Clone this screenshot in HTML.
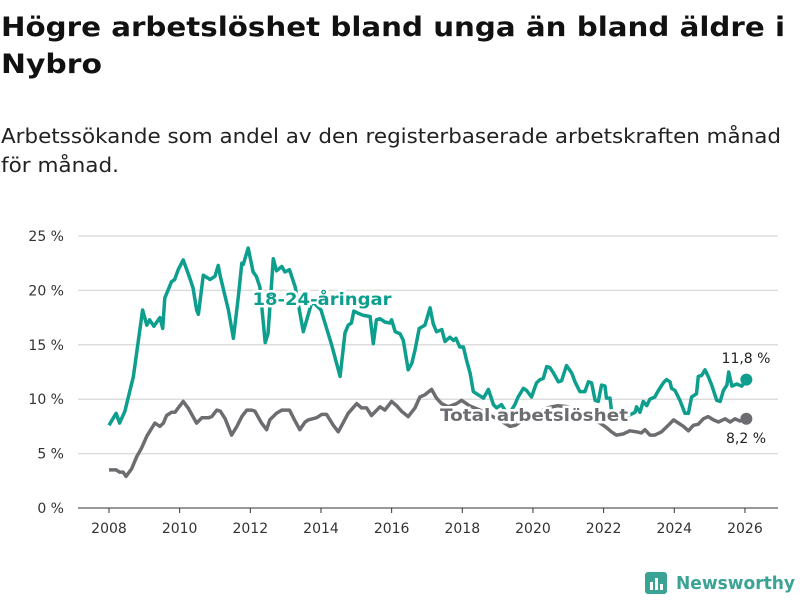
<!DOCTYPE html>
<html><head><meta charset="utf-8"><style>
body{margin:0;background:#fff;}
svg text{font-family:"DejaVu Sans","Liberation Sans",sans-serif;}
</style></head><body>
<svg width="800" height="600" viewBox="0 0 800 600">
<text x="1" y="36" font-size="27" font-weight="bold" fill="#111" textLength="784" lengthAdjust="spacingAndGlyphs">Högre arbetslöshet bland unga än bland äldre i</text>
<text x="1" y="73" font-size="27" font-weight="bold" fill="#111" textLength="101" lengthAdjust="spacingAndGlyphs">Nybro</text>
<text x="1" y="143" font-size="20" fill="#222" textLength="780" lengthAdjust="spacingAndGlyphs">Arbetssökande som andel av den registerbaserade arbetskraften månad</text>
<text x="1" y="172" font-size="20" fill="#222" textLength="118" lengthAdjust="spacingAndGlyphs">för månad.</text>
<g id="grid"></g><g id="xaxis"></g><g id="lines"></g>
<text x="322" y="305" font-size="17" font-weight="bold" fill="#0e9e8e" text-anchor="middle" stroke="#fff" stroke-width="5" paint-order="stroke" textLength="139" lengthAdjust="spacingAndGlyphs">18-24-åringar</text>
<text x="534" y="421" font-size="17" font-weight="bold" fill="#6d6c70" text-anchor="middle" stroke="#fff" stroke-width="5" paint-order="stroke" textLength="188" lengthAdjust="spacingAndGlyphs">Total arbetslöshet</text>
<text x="746" y="363" font-size="14" fill="#222" text-anchor="middle">11,8 %</text>
<text x="746" y="443" font-size="14" fill="#222" text-anchor="middle">8,2 %</text>
<g>
<rect x="645" y="572" width="22" height="22" rx="3" fill="#3aa394"/>
<rect x="650" y="582" width="3" height="8" fill="#fff"/><rect x="655" y="578" width="3" height="12" fill="#fff"/><rect x="660" y="584" width="3" height="6" fill="#fff"/>
<text x="676" y="589" font-size="18" font-weight="bold" fill="#3aa394" textLength="119" lengthAdjust="spacingAndGlyphs">Newsworthy</text>
</g>
</svg>
<script>
const yTicks=[0,5,10,15,20,25];
const yTickLabels=["0 %","5 %","10 %","15 %","20 %","25 %"];
const xTicks=[2008,2010,2012,2014,2016,2018,2020,2022,2024,2026];
const youthDates=[2008.0,2008.2,2008.3,2008.45,2008.69,2008.95,2009.07,2009.15,2009.27,2009.44,2009.52,2009.58,2009.77,2009.86,2009.96,2010.1,2010.29,2010.38,2010.48,2010.53,2010.67,2010.86,2011.0,2011.09,2011.15,2011.38,2011.52,2011.66,2011.76,2011.8,2011.94,2012.08,2012.17,2012.27,2012.42,2012.5,2012.65,2012.74,2012.89,2012.98,2013.11,2013.27,2013.5,2013.75,2014.0,2014.3,2014.54,2014.68,2014.77,2014.86,2014.93,2015.05,2015.2,2015.39,2015.48,2015.57,2015.67,2015.81,2015.95,2016.0,2016.1,2016.24,2016.33,2016.47,2016.57,2016.66,2016.78,2016.94,2017.09,2017.18,2017.27,2017.42,2017.51,2017.65,2017.75,2017.82,2017.93,2018.03,2018.12,2018.22,2018.31,2018.45,2018.6,2018.74,2018.88,2018.97,2019.11,2019.3,2019.49,2019.58,2019.73,2019.82,2019.96,2020.1,2020.2,2020.29,2020.39,2020.48,2020.58,2020.72,2020.81,2020.95,2021.1,2021.19,2021.33,2021.47,2021.57,2021.66,2021.76,2021.85,2021.94,2022.04,2022.08,2022.18,2022.22,2022.32,2022.5,2022.7,2022.89,2022.93,2023.03,2023.12,2023.22,2023.31,2023.45,2023.55,2023.69,2023.78,2023.88,2023.92,2024.02,2024.16,2024.3,2024.4,2024.49,2024.63,2024.68,2024.78,2024.87,2024.96,2025.06,2025.2,2025.3,2025.39,2025.49,2025.54,2025.63,2025.77,2025.91,2026.04];
const youthValues=[7.6,8.7,7.8,8.9,12.1,18.2,16.8,17.3,16.7,17.5,16.5,19.3,20.8,21,21.9,22.8,21.1,20.2,18.2,17.8,21.4,21,21.3,22.3,21.3,18.2,15.6,19.4,22.5,22.4,23.9,21.7,21.3,20.3,15.2,16,22.9,21.8,22.2,21.7,21.9,20.3,16.2,19,18.2,15,12.1,16.1,16.8,17,18.1,17.9,17.7,17.6,15.1,17.3,17.4,17.1,17,17.3,16.2,16,15.4,12.7,13.3,14.5,16.5,16.8,18.4,16.9,16.2,16.4,15.3,15.7,15.4,15.6,14.8,14.8,13.6,12.4,10.7,10.4,10.1,10.9,9.5,9.2,9.5,8.5,9.5,10.2,11,10.8,10.2,11.5,11.8,11.9,13,12.9,12.4,11.6,11.7,13.1,12.4,11.6,10.7,10.7,11.6,11.5,9.9,9.8,11.3,11.2,10.1,10.1,9,8.9,8.3,8.5,8.8,9.3,8.8,9.8,9.4,10,10.2,10.8,11.5,11.8,11.6,11,10.8,9.9,8.7,8.7,10.2,10.5,12.1,12.2,12.7,12.1,11.3,9.9,9.8,10.8,11.3,12.5,11.2,11.4,11.2,11.8];
const totalDates=[2008.0,2008.2,2008.3,2008.4,2008.48,2008.64,2008.78,2008.92,2009.07,2009.3,2009.44,2009.54,2009.63,2009.77,2009.87,2009.96,2010.1,2010.24,2010.48,2010.63,2010.82,2010.91,2011.05,2011.15,2011.29,2011.47,2011.62,2011.76,2011.9,2012.04,2012.13,2012.32,2012.46,2012.55,2012.74,2012.89,2013.11,2013.25,2013.4,2013.55,2013.64,2013.88,2014.02,2014.16,2014.35,2014.49,2014.77,2015.01,2015.15,2015.29,2015.43,2015.67,2015.81,2016.0,2016.14,2016.28,2016.47,2016.66,2016.8,2016.94,2017.13,2017.27,2017.41,2017.6,2017.84,2017.98,2018.2,2018.5,2018.8,2019.1,2019.35,2019.5,2019.8,2020.1,2020.4,2020.7,2021.0,2021.3,2021.6,2021.9,2022.08,2022.22,2022.36,2022.55,2022.74,2022.93,2023.07,2023.17,2023.31,2023.45,2023.64,2023.83,2023.98,2024.12,2024.26,2024.4,2024.54,2024.68,2024.82,2024.96,2025.11,2025.25,2025.44,2025.58,2025.72,2025.86,2026.04];
const totalValues=[3.5,3.5,3.3,3.3,2.9,3.6,4.7,5.5,6.6,7.8,7.5,7.8,8.5,8.8,8.8,9.2,9.8,9.2,7.8,8.3,8.3,8.4,9,8.9,8.2,6.7,7.5,8.4,9,9,8.9,7.8,7.2,8.1,8.7,9,9,8.1,7.2,7.9,8.1,8.3,8.6,8.6,7.6,7,8.7,9.6,9.2,9.2,8.5,9.3,9,9.8,9.4,8.9,8.4,9.2,10.2,10.4,10.9,10.1,9.6,9.3,9.6,9.9,9.4,9,8.5,8,7.5,7.6,8.3,8.6,9.2,9.4,9.3,8.8,8.3,7.8,7.4,7,6.7,6.8,7.1,7,6.9,7.2,6.7,6.7,7,7.6,8.1,7.8,7.5,7.1,7.6,7.7,8.2,8.4,8.1,7.9,8.2,7.9,8.2,8.0,8.2];
const NS="http://www.w3.org/2000/svg";
const X0=78,X1=778,Y0=508;
function xs(t){return 109+(t-2008)*35.33;}
function ys(v){return Y0-v*10.88;}
const grid=document.getElementById('grid');
yTicks.forEach((v,i)=>{
  const l=document.createElementNS(NS,'line');
  l.setAttribute('x1',X0);l.setAttribute('x2',X1);l.setAttribute('y1',ys(v));l.setAttribute('y2',ys(v));
  l.setAttribute('stroke',v===0?'#333':'#ddd');l.setAttribute('stroke-width',v===0?1:1.5);
  
  
  grid.appendChild(l);
  const t=document.createElementNS(NS,'text');
  t.setAttribute('x',64);t.setAttribute('y',ys(v)+5);t.setAttribute('text-anchor','end');
  t.setAttribute('font-size','14');t.setAttribute('fill','#333');t.textContent=yTickLabels[i];
  
  
  grid.appendChild(t);
});
const xa=document.getElementById('xaxis');
xTicks.forEach(yr=>{
  const l=document.createElementNS(NS,'line');
  l.setAttribute('x1',xs(yr));l.setAttribute('x2',xs(yr));l.setAttribute('y1',Y0);l.setAttribute('y2',Y0+5);
  l.setAttribute('stroke','#333');
  
  
  xa.appendChild(l);
  const t=document.createElementNS(NS,'text');
  t.setAttribute('x',xs(yr));t.setAttribute('y',533);t.setAttribute('text-anchor','middle');
  t.setAttribute('font-size','14');t.setAttribute('fill','#333');t.textContent=yr;
  
  
  xa.appendChild(t);
});
const lines=document.getElementById('lines');
function drawSeries(d,v,color,name){
  const p=document.createElementNS(NS,'path');
  p.setAttribute('d',d.map((t,i)=>(i?'L':'M')+xs(t).toFixed(1)+','+ys(v[i]).toFixed(1)).join(''));
  p.setAttribute('fill','none');p.setAttribute('stroke',color);p.setAttribute('stroke-width','3.5');
  p.setAttribute('stroke-linejoin','round');
  
  
  lines.appendChild(p);
  const c=document.createElementNS(NS,'circle');
  c.setAttribute('cx',xs(d[d.length-1]));c.setAttribute('cy',ys(v[v.length-1]));c.setAttribute('r',6);c.setAttribute('fill',color);
  
  
  lines.appendChild(c);
}
drawSeries(totalDates,totalValues,'#6d6c70','total');
drawSeries(youthDates,youthValues,'#0e9e8e','youth');
</script>
</body></html>
